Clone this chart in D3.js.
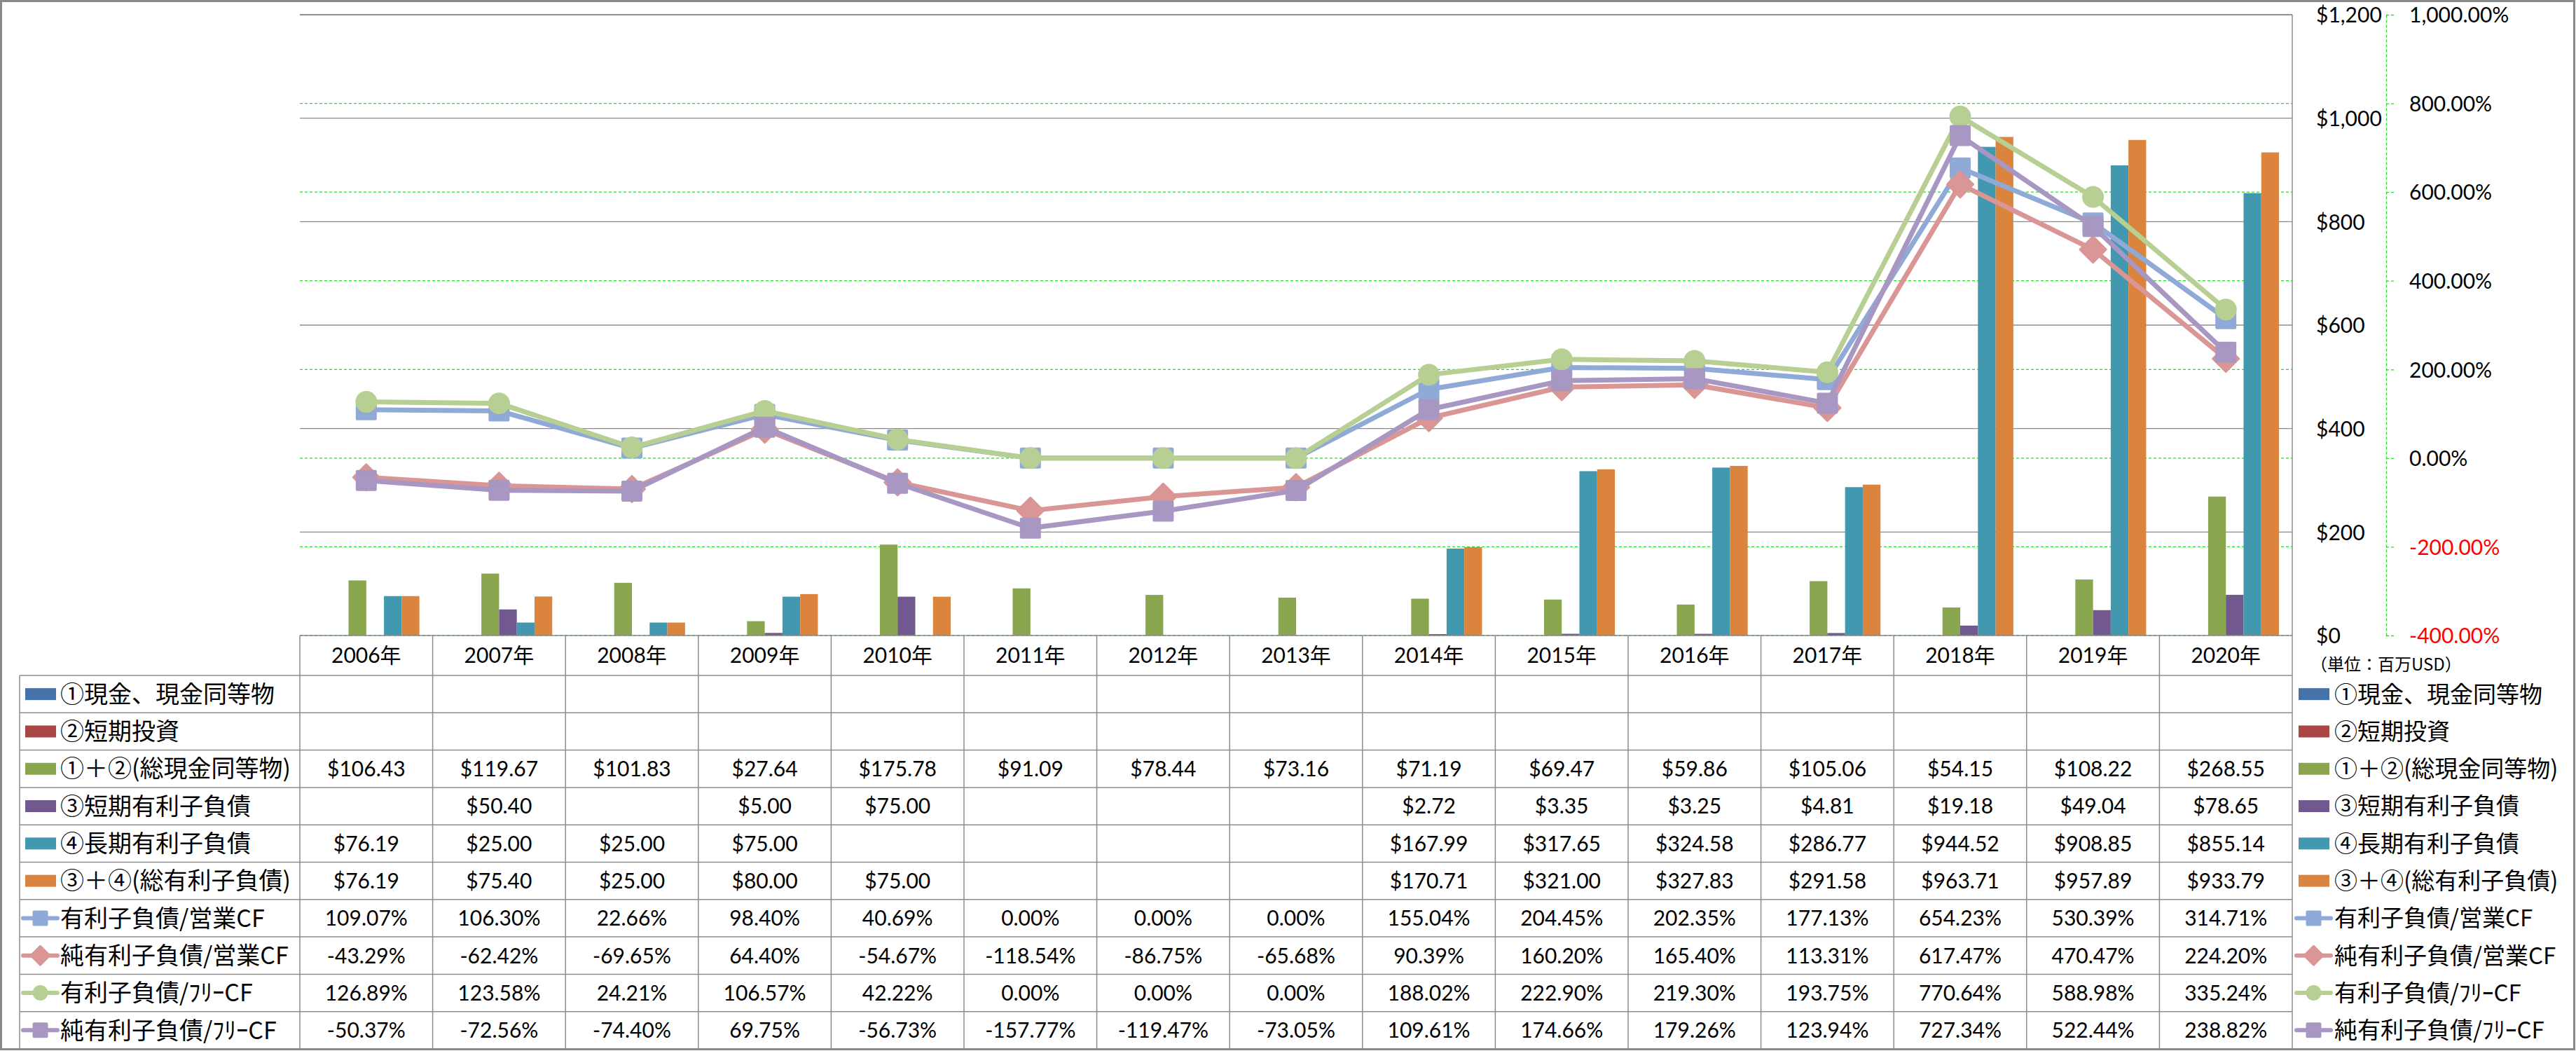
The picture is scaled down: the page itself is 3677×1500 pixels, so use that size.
<!DOCTYPE html>
<html><head><meta charset="utf-8">
<script src="https://cdn.jsdelivr.net/npm/d3@7"></script>
<style>body{margin:0;background:#fff;} svg{display:block;}</style>
</head><body>
<svg id="c" width="3677" height="1500"></svg>
<script>
// ---------------- DATA ----------------
const years = ["2006年","2007年","2008年","2009年","2010年","2011年","2012年","2013年","2014年","2015年","2016年","2017年","2018年","2019年","2020年"];
const cashEq      = [null,null,null,null,null,null,null,null,null,null,null,null,null,null,null];
const shortInv    = [null,null,null,null,null,null,null,null,null,null,null,null,null,null,null];
const totalCash   = [106.43,119.67,101.83,27.64,175.78,91.09,78.44,73.16,71.19,69.47,59.86,105.06,54.15,108.22,268.55];
const shortDebt   = [null,50.40,null,5.00,75.00,null,null,null,2.72,3.35,3.25,4.81,19.18,49.04,78.65];
const longDebt    = [76.19,25.00,25.00,75.00,null,null,null,null,167.99,317.65,324.58,286.77,944.52,908.85,855.14];
const totalDebt   = [76.19,75.40,25.00,80.00,75.00,null,null,null,170.71,321.00,327.83,291.58,963.71,957.89,933.79];
const debtToOpCF     = [109.07,106.30,22.66,98.40,40.69,0.00,0.00,0.00,155.04,204.45,202.35,177.13,654.23,530.39,314.71];
const netDebtToOpCF  = [-43.29,-62.42,-69.65,64.40,-54.67,-118.54,-86.75,-65.68,90.39,160.20,165.40,113.31,617.47,470.47,224.20];
const debtToFCF      = [126.89,123.58,24.21,106.57,42.22,0.00,0.00,0.00,188.02,222.90,219.30,193.75,770.64,588.98,335.24];
const netDebtToFCF   = [-50.37,-72.56,-74.40,69.75,-56.73,-157.77,-119.47,-73.05,109.61,174.66,179.26,123.94,727.34,522.44,238.82];
const dollarTicks = [0,200,400,600,800,1000,1200];
const pctTicks = [-400,-200,0,200,400,600,800,1000];
const unitLabel = "（単位：百万USD）";

const barSeries = [
  {name:"①現金、現金同等物", values:cashEq, color:"#4572A7"},
  {name:"②短期投資", values:shortInv, color:"#AA4643"},
  {name:"①＋②(総現金同等物)", values:totalCash, color:"#89A54E"},
  {name:"③短期有利子負債", values:shortDebt, color:"#71588F"},
  {name:"④長期有利子負債", values:longDebt, color:"#4198AF"},
  {name:"③＋④(総有利子負債)", values:totalDebt, color:"#DB843D"}
];
const lineSeries = [
  {name:"有利子負債/営業CF", values:debtToOpCF, color:"#8FAAD6", marker:"square"},
  {name:"純有利子負債/営業CF", values:netDebtToOpCF, color:"#D99694", marker:"diamond"},
  {name:"有利子負債/ﾌﾘｰCF", values:debtToFCF, color:"#B7CF93", marker:"circle"},
  {name:"純有利子負債/ﾌﾘｰCF", values:netDebtToFCF, color:"#A897C2", marker:"square"}
];

// ---------------- LAYOUT ----------------
const plotL = 428, plotR = 3272, plotT = 21, plotB = 907;
const tableL = 28, headerB = 964, tableB = 1497;
const nRows = barSeries.length + lineSeries.length;
const rowH = (tableB - headerB) / nRows;
const numFont = "Lato, 'Noto Sans CJK JP', sans-serif";
const cjkFont = "'Noto Sans CJK JP', sans-serif";
const gridGray = "#8c8c8c";
const loc = d3.formatLocale({decimal:".", thousands:",", grouping:[3], currency:["$",""], minus:"-"});
const f2 = loc.format(",.2f");
const f0 = loc.format(",");

const svg = d3.select("#c");
svg.append("rect").attr("width",3677).attr("height",1500).attr("fill","#fff");

const x = d3.scaleBand().domain(years).range([plotL, plotR]).paddingInner(0).paddingOuter(0);
const x1 = d3.scaleBand().domain(barSeries.map(s=>s.name)).range([0, x.bandwidth()]).paddingInner(0).paddingOuter(0.75);
const yL = d3.scaleLinear().domain([0,1200]).range([plotB, plotT]);
const yR = d3.scaleLinear().domain([-400,1000]).range([plotB, plotT]);

// percent gridlines (green dashed)
svg.append("g").selectAll("line").data(pctTicks).join("line")
  .attr("x1",plotL).attr("x2",plotR).attr("y1",d=>yR(d)).attr("y2",d=>yR(d))
  .attr("stroke","#1EE01E").attr("stroke-width",1.3).attr("stroke-dasharray","4,3");
// dollar gridlines
svg.append("g").selectAll("line").data(dollarTicks.filter(d=>d>0)).join("line")
  .attr("x1",plotL).attr("x2",plotR).attr("y1",d=>yL(d)).attr("y2",d=>yL(d))
  .attr("stroke",gridGray).attr("stroke-width",1.3);

// bars
const barG = svg.append("g");
barSeries.forEach(s=>{
  barG.append("g").selectAll("rect").data(s.values.map((v,i)=>({v,year:years[i]})).filter(d=>d.v!=null)).join("rect")
    .attr("x",d=>x(d.year)+x1(s.name)).attr("width",x1.bandwidth())
    .attr("y",d=>yL(d.v)).attr("height",d=>plotB-yL(d.v))
    .attr("fill",s.color);
});

// markers
function drawMarker(g, type, cx, cy, size, color){
  if(type==="circle"){
    g.append("circle").attr("cx",cx).attr("cy",cy).attr("r",size/2).attr("fill",color);
  } else if(type==="square"){
    g.append("rect").attr("x",cx-size/2+2).attr("y",cy-size/2+2).attr("width",size-4).attr("height",size-4)
      .attr("fill",color).attr("stroke",color).attr("stroke-width",4).attr("stroke-linejoin","round");
  } else if(type==="diamond"){
    const s = size/Math.SQRT2;
    g.append("rect").attr("x",-s/2).attr("y",-s/2).attr("width",s).attr("height",s)
      .attr("transform",`translate(${cx},${cy}) rotate(45)`)
      .attr("fill",color).attr("stroke",color).attr("stroke-width",3).attr("stroke-linejoin","round");
  }
}
const markerSize = {square:30, circle:31, diamond:37};

// lines
const cx = y => x(y) + x.bandwidth()/2;
const lineGen = d3.line().x(d=>cx(d.year)).y(d=>yR(d.v));
lineSeries.forEach(s=>{
  const pts = s.values.map((v,i)=>({v,year:years[i]}));
  const g = svg.append("g");
  g.append("path").datum(pts).attr("d",lineGen).attr("fill","none")
    .attr("stroke",s.color).attr("stroke-width",7).attr("stroke-linejoin","round").attr("stroke-linecap","round");
  pts.forEach(p=>drawMarker(g, s.marker, cx(p.year), yR(p.v), markerSize[s.marker], s.color));
});

// right $ axis
const axL = svg.append("g").attr("transform",`translate(${plotR},0)`)
  .call(d3.axisRight(yL).tickValues(dollarTicks).tickFormat(d=>"$"+f0(d)).tickSize(0).tickPadding(34));
axL.select(".domain").remove();
axL.selectAll("text").attr("font-family",numFont).attr("font-size",30).attr("fill","#000").attr("dy","0.36em");
svg.append("line").attr("x1",plotL).attr("x2",plotR).attr("y1",plotT).attr("y2",plotT).attr("stroke",gridGray).attr("stroke-width",1.5);

// % axis
const axR = svg.append("g").attr("transform",`translate(3406,0)`)
  .call(d3.axisRight(yR).tickValues(pctTicks).tickFormat(d=>f2(d)+"%").tickSizeInner(11).tickSizeOuter(0).tickPadding(22));
axR.select(".domain").attr("stroke","#1EE01E").attr("stroke-width",1.3).attr("stroke-dasharray","4,3");
axR.selectAll(".tick line").attr("stroke","#1EE01E").attr("stroke-width",1.3).attr("stroke-dasharray","4,3");
axR.selectAll("text").attr("font-family",numFont).attr("font-size",30).attr("dy","0.36em")
  .attr("fill",d=>d<0?"#FF0000":"#000");

// year header (x axis)
const axX = svg.append("g").attr("transform",`translate(0,${plotB})`)
  .call(d3.axisBottom(x).tickSize(0).tickPadding(0));
axX.select(".domain").remove();
axX.selectAll("text").attr("font-family",numFont).attr("font-size",30).attr("fill","#000")
  .attr("y",(headerB-plotB)/2).attr("dy","0.36em");

// unit label
svg.append("text").attr("x",3298).attr("y",948).attr("dy","0.36em")
  .attr("font-family",cjkFont).attr("font-size",24).attr("fill","#000").text(unitLabel);

// table grid
const tg = svg.append("g").attr("stroke",gridGray).attr("stroke-width",1.5);
tg.append("line").attr("x1",plotL).attr("x2",plotR).attr("y1",plotB).attr("y2",plotB);
d3.range(nRows+1).forEach(i=>{
  const yy = headerB + i*rowH;
  tg.append("line").attr("x1",tableL).attr("x2",plotR).attr("y1",yy).attr("y2",yy);
});
tg.append("line").attr("x1",tableL).attr("x2",tableL).attr("y1",headerB).attr("y2",tableB);
years.forEach(y=>{
  tg.append("line").attr("x1",x(y)).attr("x2",x(y)).attr("y1",plotB).attr("y2",tableB);
});
tg.append("line").attr("x1",plotR).attr("x2",plotR).attr("y1",plotT).attr("y2",tableB);

// table rows
const rows = [
  ...barSeries.map(s=>({...s, kind:"bar", fmt:v=>"$"+f2(v)})),
  ...lineSeries.map(s=>({...s, kind:"line", fmt:v=>f2(v)+"%"}))
];
function legendKey(g, r, x0, yc){
  if(r.kind==="bar"){
    g.append("rect").attr("x",x0).attr("y",yc-8.5).attr("width",44).attr("height",17).attr("fill",r.color);
  } else {
    g.append("line").attr("x1",x0-3).attr("x2",x0+46).attr("y1",yc).attr("y2",yc)
      .attr("stroke",r.color).attr("stroke-width",6).attr("stroke-linecap","round");
    drawMarker(g, r.marker, x0+21.5, yc, r.marker==="diamond"?27:22, r.color);
  }
}
rows.forEach((r,i)=>{
  const yc = headerB + (i+0.5)*rowH;
  const g = svg.append("g");
  legendKey(g, r, 36, yc);
  g.append("text").attr("x",86).attr("y",yc).attr("dy","0.36em").attr("font-family",cjkFont)
    .attr("font-size",34).attr("fill","#000").text(r.name);
  legendKey(g, r, 3281, yc);
  g.append("text").attr("x",3332).attr("y",yc).attr("dy","0.36em").attr("font-family",cjkFont)
    .attr("font-size",33).attr("fill","#000").text(r.name);
  g.selectAll("text.cell").data(r.values.map((v,j)=>({v,year:years[j]})).filter(d=>d.v!=null)).join("text")
    .attr("class","cell").attr("x",d=>cx(d.year)).attr("y",yc).attr("dy","0.36em")
    .attr("text-anchor","middle").attr("font-family",numFont).attr("font-size",30).attr("fill","#000")
    .text(d=>r.fmt(d.v));
});

// outer border
svg.append("rect").attr("x",1.5).attr("y",1.5).attr("width",3673).attr("height",1496)
  .attr("fill","none").attr("stroke","#8a8a8a").attr("stroke-width",3);
</script>
</body></html>
